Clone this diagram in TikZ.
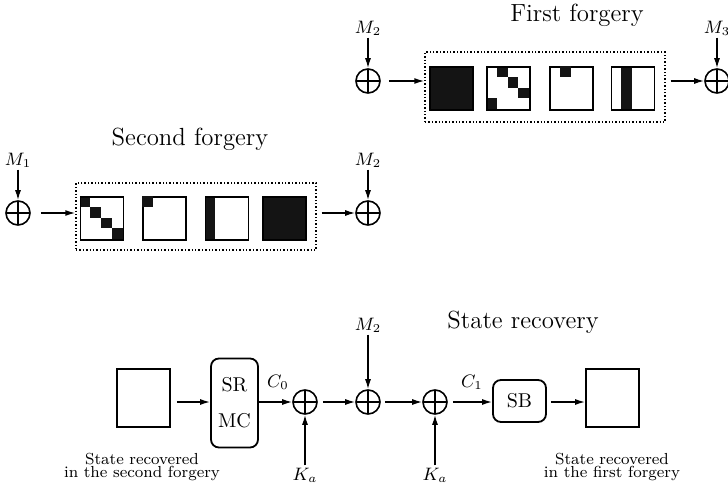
\documentclass[tikz,border=0pt]{standalone}
\usetikzlibrary{arrows.meta,calc}
\tikzset{
  xor/.style={circle,draw,line width=0.8pt,minimum size=12pt,inner sep=0pt,
    path picture={\draw[line width=0.8pt] (path picture bounding box.north) -- (path picture bounding box.south)
      (path picture bounding box.west) -- (path picture bounding box.east);}},
  arr/.style={-{Latex[length=5pt,width=3pt]},line width=0.7pt},
  sq/.style={draw,line width=0.9pt,minimum size=21.5pt,inner sep=0pt},
  sqfull/.style={sq,fill=black!92},
  bigsq/.style={draw,line width=0.9pt,minimum width=26.5pt,minimum height=29pt,inner sep=0pt},
  frame/.style={draw,line width=0.7pt,dash pattern=on 0.7pt off 1pt,inner sep=0pt},
  lbl/.style={font=\fontsize{8.8}{10}\selectfont,inner sep=1pt},
  capt/.style={font=\fontsize{8}{6.7}\selectfont,align=center,inner sep=0pt},
  ttl/.style={font=\fontsize{12.4}{14}\selectfont,inner sep=0pt},
  op/.style={draw,rounded corners=4pt,line width=0.9pt,inner sep=0pt,font=\fontsize{10}{12}\selectfont,align=center},
}
\newcommand\sqcell[3]{\fill[black!92] ($(#1.north west)+(#2*10.75,#3*10.75)$) rectangle ++(10.75,10.75);}
\begin{document}
\begin{tikzpicture}[x=0.5pt,y=-0.5pt]
\useasboundingbox (0,0) rectangle (728,487);

% ---------- First forgery ----------
\node[ttl] (t1) at (577,15) {First forgery};
\node[xor] (xa) at (368,81) {};
\node[lbl] (ma) at (368,28) {$M_2$};
\node[xor] (xb) at (717,81) {};
\node[lbl] (mb) at (717,28) {$M_3$};
\node[frame,minimum width=120pt,minimum height=35pt] (fa) at (545,87) {};
\node[sqfull] (a1) at (451.5,88.5) {};
\node[sq] (a2) at (508.5,88.5) {};
\node[sq] (a3) at (571.5,88.5) {};
\node[sq] (a4) at (633,88.5) {};
\sqcell{a2}{1}{0}\sqcell{a2}{2}{1}\sqcell{a2}{3}{2}\sqcell{a2}{0}{3}
\sqcell{a3}{1}{0}
\sqcell{a4}{1}{0}\sqcell{a4}{1}{1}\sqcell{a4}{1}{2}\sqcell{a4}{1}{3}
\node[sq] at (a2) {};
\node[sq] at (a4) {};
\draw[arr] (ma) -- (xa);
\draw[arr] (mb) -- (xb);
\draw[arr,shorten <=4pt] (xa.east) -- (xa.east -| fa.west);
\draw[arr,shorten <=2.5pt] (xb.west -| fa.east) -- (xb.west);

% ---------- Second forgery ----------
\node[ttl] (t2) at (190,139) {Second forgery};
\node[xor] (xc) at (18,213) {};
\node[lbl] (mc) at (18,160) {$M_1$};
\node[xor] (xd) at (368,213) {};
\node[lbl] (md) at (368,160) {$M_2$};
\node[frame,minimum width=120pt,minimum height=33.5pt] (fb) at (196,216.5) {};
\node[sq] (b1) at (102,218.5) {};
\node[sq] (b2) at (164.5,218.5) {};
\node[sq] (b3) at (227,218.5) {};
\node[sqfull] (b4) at (284.5,218.5) {};
\sqcell{b1}{0}{0}\sqcell{b1}{1}{1}\sqcell{b1}{2}{2}\sqcell{b1}{3}{3}
\sqcell{b2}{0}{0}
\sqcell{b3}{0}{0}\sqcell{b3}{0}{1}\sqcell{b3}{0}{2}\sqcell{b3}{0}{3}
\node[sq] at (b1) {};
\node[sq] at (b3) {};
\draw[arr] (mc) -- (xc);
\draw[arr] (md) -- (xd);
\draw[arr,shorten <=5pt] (xc.east) -- (xc.east -| fb.west);
\draw[arr,shorten <=2.5pt] (xd.west -| fb.east) -- (xd.west);

% ---------- State recovery ----------
\node[ttl] (t3) at (523,322) {State recovery};
\node[bigsq] (ls) at (143.5,398) {};
\node[capt] (lc) at (142,467) {State recovered\\in the second forgery};
\node[op,minimum width=23.5pt,minimum height=44.5pt] (mcx) at (234.5,403) {SR\\[6pt]MC};
\node[xor] (x1) at (305,402) {};
\node[lbl] (c0) at (278,382) {$C_0$};
\node[lbl] (k1) at (305,475) {$K_a$};
\node[xor] (x2) at (368,402) {};
\node[lbl] (m2) at (368,325) {$M_2$};
\node[xor] (x3) at (435,402) {};
\node[lbl] (k2) at (435,475) {$K_a$};
\node[lbl] (c1) at (472,382) {$C_1$};
\node[op,minimum width=26.5pt,minimum height=21pt] (sb) at (519.5,401) {SB};
\node[bigsq] (rs) at (612.5,398) {};
\node[capt] (rc) at (612,467) {State recovered\\in the first forgery};

\draw[arr,shorten <=3pt] (ls.east |- x1) -- (mcx.west |- x1);
\draw[arr] (mcx.east |- x1) -- (x1.west);
\draw[arr] (k1) -- (x1);
\draw[arr,shorten <=2.5pt] (x1.east) -- (x2.west);
\draw[arr] (m2) -- (x2);
\draw[arr,shorten <=2pt] (x2.east) -- (x3.west);
\draw[arr] (k2) -- (x3);
\draw[arr,shorten <=2.5pt] (x3.east) -- (sb.west |- x3);
\draw[arr,shorten <=2pt] (sb.east |- x3) -- (rs.west |- x3);
\end{tikzpicture}
\end{document}
